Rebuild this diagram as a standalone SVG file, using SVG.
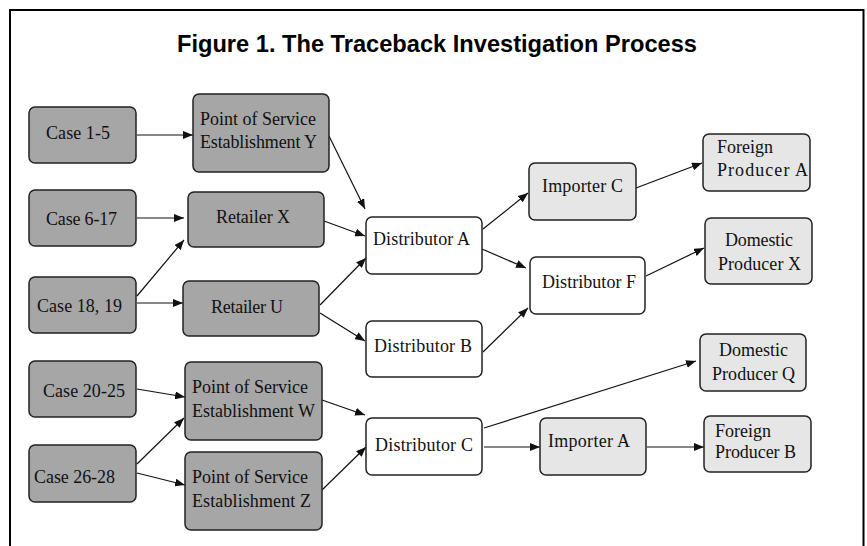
<svg xmlns="http://www.w3.org/2000/svg" width="867" height="546" viewBox="0 0 867 546">
<style>
.frame{fill:none;stroke:#000;stroke-width:2}
.dk{fill:#a6a6a6;stroke:#222;stroke-width:1.5}
.lt{fill:#e6e6e6;stroke:#222;stroke-width:1.5}
.wh{fill:#fff;stroke:#222;stroke-width:1.5}
.t{font-family:"Liberation Serif","Times New Roman",serif;font-size:18px;fill:#111}
.title{font-family:"Liberation Sans",Arial,sans-serif;font-size:24px;font-weight:bold;fill:#000}
.c line{stroke:#111;stroke-width:1.2;marker-end:url(#arr)}
</style>
<defs>
<marker id="arr" viewBox="0 0 10 8" refX="10" refY="4" markerWidth="10" markerHeight="8" orient="auto" markerUnits="userSpaceOnUse"><path d="M0,0 L10,4 L0,8 z" fill="#111"/></marker>
</defs>
<rect width="867" height="546" fill="#fff"/>
<path class="frame" d="M10,546 L10,10 L863.5,10 L863.5,546"/>
<text class="title" x="177" y="52" textLength="520" lengthAdjust="spacingAndGlyphs">Figure 1. The Traceback Investigation Process</text>
<g class="c" id="connectors">
<line x1="137" y1="135" x2="193" y2="135"/>
<line x1="329" y1="136" x2="365" y2="209"/>
<line x1="137" y1="218" x2="184" y2="218"/>
<line x1="137" y1="296" x2="184" y2="240"/>
<line x1="137" y1="303" x2="183" y2="303"/>
<line x1="324" y1="221" x2="365" y2="236"/>
<line x1="320" y1="305" x2="366" y2="258"/>
<line x1="320" y1="313" x2="365" y2="341"/>
<line x1="483" y1="229" x2="528" y2="193"/>
<line x1="482" y1="249" x2="526" y2="268"/>
<line x1="483" y1="352" x2="528" y2="308"/>
<line x1="636" y1="188" x2="702" y2="163"/>
<line x1="646" y1="276" x2="704" y2="248"/>
<line x1="484" y1="428" x2="696" y2="361"/>
<line x1="484" y1="447" x2="540" y2="447"/>
<line x1="647" y1="447" x2="704" y2="447"/>
<line x1="137" y1="389" x2="185" y2="397"/>
<line x1="137" y1="464" x2="184" y2="418"/>
<line x1="137" y1="473" x2="185" y2="485"/>
<line x1="322" y1="400" x2="365" y2="415"/>
<line x1="322" y1="490" x2="366" y2="447"/>
</g>
<g id="case1-5"><rect class="dk" x="29" y="107" width="107" height="56" rx="6"/><text class="t" x="46" y="139" textLength="64">Case 1-5</text></g>
<g id="case6-17"><rect class="dk" x="29" y="190" width="107" height="56" rx="6"/><text class="t" x="46" y="225" textLength="71">Case 6-17</text></g>
<g id="case18-19"><rect class="dk" x="29" y="277" width="107" height="56" rx="6"/><text class="t" x="37" y="312" textLength="85">Case 18, 19</text></g>
<g id="case20-25"><rect class="dk" x="29" y="361" width="107" height="56" rx="6"/><text class="t" x="43" y="397" textLength="82">Case 20-25</text></g>
<g id="case26-28"><rect class="dk" x="29" y="445" width="107" height="57" rx="6"/><text class="t" x="34" y="483" textLength="81">Case 26-28</text></g>
<g id="posY"><rect class="dk" x="193" y="94" width="136" height="78" rx="6"/><text class="t" x="200" y="125" textLength="116">Point of Service</text><text class="t" x="200" y="148" textLength="117">Establishment Y</text></g>
<g id="retailerX"><rect class="dk" x="188" y="192" width="136" height="55" rx="6"/><text class="t" x="216" y="223" textLength="74">Retailer X</text></g>
<g id="retailerU"><rect class="dk" x="183" y="281" width="136" height="55" rx="6"/><text class="t" x="211" y="313" textLength="72">Retailer U</text></g>
<g id="posW"><rect class="dk" x="185" y="362" width="137" height="78" rx="6"/><text class="t" x="192" y="393" textLength="116">Point of Service</text><text class="t" x="192" y="417" textLength="123">Establishment W</text></g>
<g id="posZ"><rect class="dk" x="185" y="452" width="137" height="78" rx="6"/><text class="t" x="192" y="483" textLength="116">Point of Service</text><text class="t" x="192" y="507" textLength="119">Establishment Z</text></g>
<g id="distA"><rect class="wh" x="366" y="217" width="116" height="57" rx="6"/><text class="t" x="373" y="245" textLength="97">Distributor A</text></g>
<g id="distB"><rect class="wh" x="366" y="321" width="116" height="56" rx="6"/><text class="t" x="374" y="352" textLength="98">Distributor B</text></g>
<g id="distC"><rect class="wh" x="366" y="418" width="116" height="57" rx="6"/><text class="t" x="375" y="451" textLength="98">Distributor C</text></g>
<g id="impC"><rect class="lt" x="529" y="163" width="107" height="57" rx="6"/><text class="t" x="542" y="192" textLength="81">Importer C</text></g>
<g id="distF"><rect class="wh" x="530" y="257" width="115" height="57" rx="6"/><text class="t" x="542" y="288" textLength="94">Distributor F</text></g>
<g id="fpA"><rect class="lt" x="703" y="134" width="107" height="57" rx="6"/><text class="t" x="717" y="153">Foreign</text><text class="t" x="717" y="176" textLength="91">Producer A</text></g>
<g id="dpX"><rect class="lt" x="705" y="218" width="107" height="66" rx="6"/><text class="t" x="725" y="246" textLength="68">Domestic</text><text class="t" x="718" y="270" textLength="83">Producer X</text></g>
<g id="dpQ"><rect class="lt" x="700" y="334" width="106" height="57" rx="6"/><text class="t" x="719" y="356" textLength="69">Domestic</text><text class="t" x="712" y="380" textLength="83">Producer Q</text></g>
<g id="impA"><rect class="lt" x="540" y="418" width="106" height="57" rx="6"/><text class="t" x="548" y="447" textLength="82">Importer A</text></g>
<g id="fpB"><rect class="lt" x="704" y="416" width="107" height="56" rx="6"/><text class="t" x="715" y="437">Foreign</text><text class="t" x="715" y="458" textLength="81">Producer B</text></g>
</svg>
